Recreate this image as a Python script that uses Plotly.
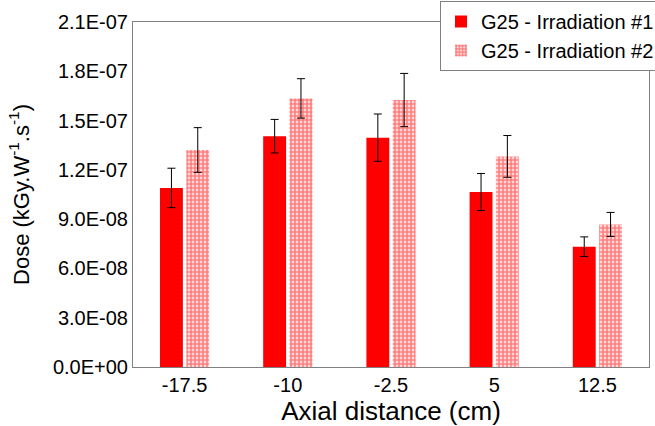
import plotly.graph_objects as go

categories = ["-17.5", "-10", "-2.5", "5", "12.5"]
irr1 = [1.09e-7, 1.405e-7, 1.396e-7, 1.065e-7, 7.32e-8]
irr1_err = [1.2e-8, 1.02e-8, 1.44e-8, 1.13e-8, 0.6e-8]
irr2 = [1.321e-7, 1.635e-7, 1.625e-7, 1.282e-7, 8.68e-8]
irr2_err = [1.36e-8, 1.2e-8, 1.62e-8, 1.27e-8, 0.73e-8]
ytick_vals = [0, 3e-8, 6e-8, 9e-8, 1.2e-7, 1.5e-7, 1.8e-7, 2.1e-7]
ytick_text = ["0.0E+00", "3.0E-08", "6.0E-08", "9.0E-08", "1.2E-07", "1.5E-07", "1.8E-07", "2.1E-07"]

font = "Liberation Sans, Arial, sans-serif"

fig = go.Figure()
fig.add_trace(go.Bar(
    x=categories, y=irr1, name="G25 - Irradiation #1",
    marker=dict(color="#ff0000", line=dict(width=0)),
    error_y=dict(type="data", array=irr1_err, color="#000000", thickness=1, width=4),
))
fig.add_trace(go.Bar(
    x=categories, y=irr2, name="G25 - Irradiation #2",
    marker=dict(color="#ffffff", line=dict(width=0),
                pattern=dict(shape=".", fgcolor="#ff0000", bgcolor="#ffffff",
                             size=4, solidity=0.75)),
    error_y=dict(type="data", array=irr2_err, color="#000000", thickness=1, width=4),
))

fig.update_layout(
    width=655, height=426,
    margin=dict(l=133, r=6, t=22, b=59, autoexpand=False),
    plot_bgcolor="white", paper_bgcolor="white",
    barmode="group", bargap=0.49, bargroupgap=0.13,
    font=dict(family=font, color="#000000"),
    showlegend=True,
    legend=dict(x=(440 - 133) / 516, y=(367 - 1) / 345, xanchor="left", yanchor="top",
                bgcolor="white", bordercolor="#808080", borderwidth=1,
                font=dict(size=20, family=font), tracegroupgap=0,
                itemwidth=30),
    xaxis=dict(
        showline=True, linecolor="#808080", linewidth=1, mirror=True,
        showgrid=False, ticks="", tickfont=dict(size=20),
        title=dict(text="Axial distance (cm)", font=dict(size=26), standoff=0),
    ),
    yaxis=dict(
        range=[0, 2.1e-7], showline=True, linecolor="#808080", linewidth=1, mirror=True,
        showgrid=False, ticks="", tickvals=ytick_vals, ticktext=ytick_text,
        tickfont=dict(size=20), zeroline=False,
        title=dict(text="Dose (kGy.W<sup>-1</sup>.s<sup>-1</sup>)", font=dict(size=22), standoff=17),
    ),
)

fig.write_html("out.html", config={"displayModeBar": False},
               post_script="document.body.style.margin='0';")
